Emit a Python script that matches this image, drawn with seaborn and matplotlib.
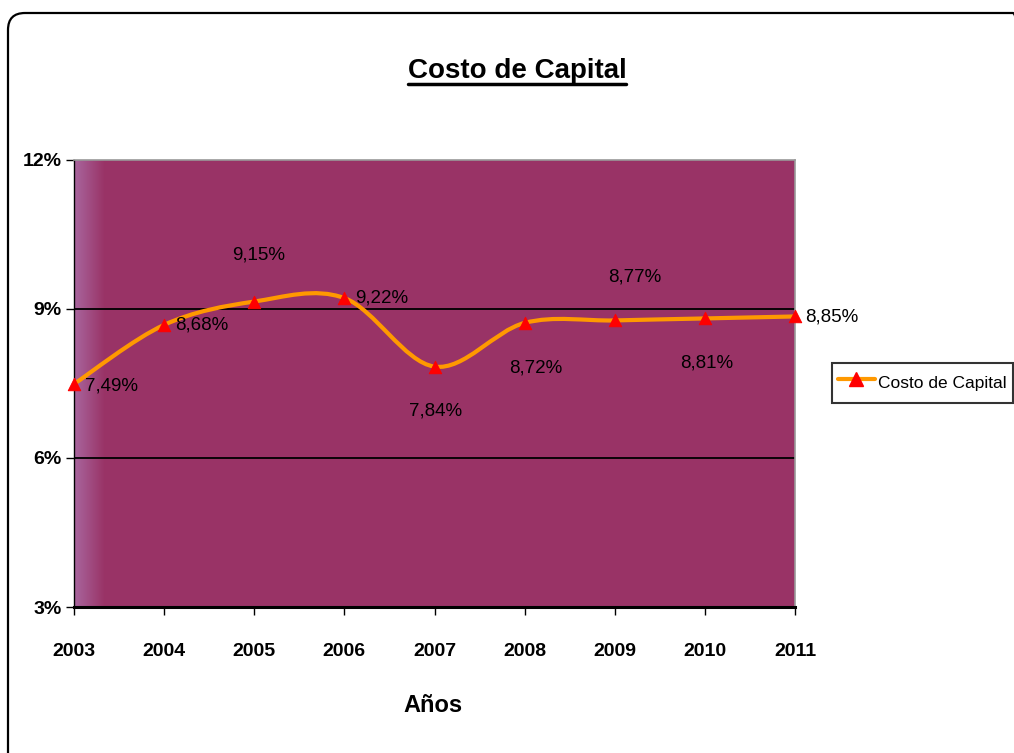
import numpy as np
import matplotlib
matplotlib.use("Agg")
import matplotlib.pyplot as plt
import seaborn as sns
from matplotlib.path import Path
from matplotlib.patches import PathPatch, FancyBboxPatch
from matplotlib.lines import Line2D
from matplotlib.transforms import IdentityTransform
from matplotlib import font_manager

# datos
anios = [2003, 2004, 2005, 2006, 2007, 2008, 2009, 2010, 2011]
costo = [7.49, 8.68, 9.15, 9.22, 7.84, 8.72, 8.77, 8.81, 8.85]
etiquetas = ["7,49%", "8,68%", "9,15%", "9,22%", "7,84%", "8,72%", "8,77%", "8,81%", "8,85%"]
y_ticks = [3, 6, 9, 12]
y_labels = ["3%", "6%", "9%", "12%"]

# desplazamiento de etiquetas (pixeles)
offsets = [(37, -2), (38, 0), (4, 47), (37, 0), (1, -44), (11, -45), (20, 43), (2, -45), (37, -1)]

sns.set_theme(style="white")
nombres = {f.name for f in font_manager.fontManager.ttflist}
fuente = "Liberation Sans Narrow" if "Liberation Sans Narrow" in nombres else "Liberation Sans"
plt.rcParams['font.family'] = [fuente, 'DejaVu Sans']
plt.rcParams['text.color'] = 'black'
plt.rcParams['xtick.color'] = 'black'
plt.rcParams['ytick.color'] = 'black'
plt.rcParams['axes.labelcolor'] = 'black'

W, H = 1014, 753
fig = plt.figure(figsize=(W / 100, H / 100), dpi=100)
fig.patch.set_facecolor("white")
ax = fig.add_axes([74 / W, 1 - 607 / H, (795 - 74) / W, (607 - 160) / H])
ax.set_facecolor("#993366")

# degradado a la izquierda del area de trazado
grad = np.zeros((1, 64, 4))
c0 = np.array([0.66, 0.40, 0.62])
c1 = np.array([0.6, 0.2, 0.4])
for i in range(64):
    t = i / 63
    grad[0, i, :3] = c0 * (1 - t) + c1 * t
    grad[0, i, 3] = 1.0
ax.imshow(grad, extent=[0, 0.042, 0, 1], transform=ax.transAxes, aspect='auto', zorder=0.5)

# lineas de division
for v in [6, 9]:
    ax.axhline(v, color="black", lw=1.3, zorder=1)

# linea suavizada (bezier estilo Excel)
pts = np.column_stack([anios, costo]).astype(float)
ext = np.vstack([pts[0], pts, pts[-1]])
verts = [tuple(pts[0])]
codes = [Path.MOVETO]
for i in range(len(pts) - 1):
    p0, p1, p2, p3 = ext[i], ext[i + 1], ext[i + 2], ext[i + 3]
    verts += [tuple(p1 + (p2 - p0) / 6), tuple(p2 - (p3 - p1) / 6), tuple(p2)]
    codes += [Path.CURVE4] * 3
ax.add_patch(PathPatch(Path(verts, codes), fill=False, edgecolor="#FF9900", lw=3, zorder=2, clip_on=False))

sns.scatterplot(x=anios, y=costo, marker="^", color="red", edgecolor="red", s=80, zorder=4, ax=ax, clip_on=False)

for x, y, lab, (dx, dy) in zip(anios, costo, etiquetas, offsets):
    ax.annotate(lab, (x, y), xytext=(dx, dy), textcoords="offset pixels", ha="center", va="center",
                fontsize=13.5, color="black", zorder=5)

ax.set_xlim(2003, 2011)
ax.set_ylim(3, 12)
ax.set_xticks(anios)
ax.set_xticklabels([str(a) for a in anios], fontsize=14, fontweight="bold")
ax.set_yticks(y_ticks)
ax.set_yticklabels(y_labels, fontsize=14, fontweight="bold")
ax.tick_params(axis="x", direction="out", length=6, width=1, color="black", pad=20, bottom=True)
ax.tick_params(axis="y", direction="out", length=6, width=1, color="black", pad=3, left=True)
ax.grid(False)

for s in ["top", "right"]:
    ax.spines[s].set_color("#999999")
    ax.spines[s].set_linewidth(1.2)
ax.spines["left"].set_color("black")
ax.spines["left"].set_linewidth(1)
ax.spines["bottom"].set_color("black")
ax.spines["bottom"].set_linewidth(2.2)

# titulo subrayado
titulo = fig.text(517 / W, 1 - 78 / H, "Costo de Capital", ha="center", va="baseline",
                  fontsize=20, fontweight="bold", color="black")
fig.text(433 / W, 1 - 706 / H, "Años", ha="center", va="center", fontsize=17, fontweight="bold", color="black")

fig.canvas.draw()
bb = titulo.get_window_extent()
fig.add_artist(Line2D([bb.x0 / W, bb.x1 / W], [1 - 84 / H, 1 - 84 / H], color="black", lw=2.5,
                      transform=fig.transFigure))

# leyenda
h = Line2D([], [], color="#FF9900", lw=3, marker="^", markerfacecolor="red", markeredgecolor="red", markersize=10)
leg = fig.legend(handles=[h], labels=["Costo de Capital"], loc="center left",
                 bbox_to_anchor=(832 / W, 1 - 383 / H), frameon=True, fancybox=False,
                 fontsize=12.5, handlelength=2.1, handleheight=2.1, handletextpad=0.2,
                 borderpad=0.35, borderaxespad=0)
leg.get_frame().set_edgecolor("black")
leg.get_frame().set_linewidth(1.5)

# borde del grafico
borde = FancyBboxPatch((8, -17), 1022, 753 - 13 + 17, boxstyle="round,pad=0,rounding_size=17",
                       transform=IdentityTransform(), fill=False, edgecolor="black", lw=1.6)
fig.patches.append(borde)

fig.savefig("out.png", dpi=100)
